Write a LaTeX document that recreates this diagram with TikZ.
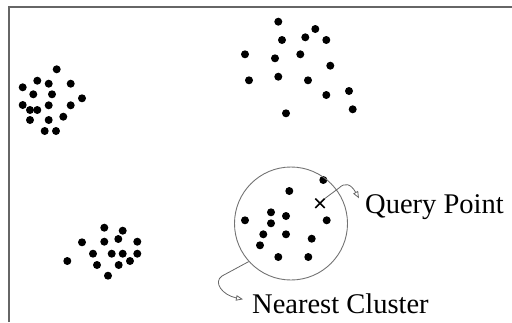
\documentclass[tikz,border=0pt]{standalone}
\usepackage{fontspec}
\setmainfont{Liberation Serif}
\usetikzlibrary{arrows.meta}
\begin{document}
\begin{tikzpicture}[x=1pt,y=-1pt,
  frame/.style={draw=black!60,line width=1.3pt},
  dot/.style={fill=black},
  ring/.style={draw=black!55,line width=0.9pt,circle,minimum size=113pt,inner sep=0pt},
  pointer/.style={draw=black!60,line width=0.8pt,-{Triangle[open,length=7pt,width=5.5pt]}},
  caption/.style={font=\fontsize{28.5}{30}\selectfont,inner sep=0pt,anchor=base west}]
\useasboundingbox (0,0) rectangle (512,322);
% open frame along the top and left
\draw[frame] (9,322) -- (9,7) -- (512,7);
% cluster on the left
\foreach \p in {(56.7,69.3),(37.3,80.7),(48.7,83.7),(70.7,83.7),(22.7,87.3),(33.3,94.3),
  (52,94.3),(82,98.3),(22.7,105),(30,110),(37.3,110),(48.7,105.3),(70.7,105.3),
  (30,120),(48.7,120),(63.3,116.7),(44.7,131),(56,131)}
  \fill[dot] \p circle (4);
% cluster at the top
\foreach \p in {(278.3,21.7),(315.3,29),(282,40),(305.3,37.3),(326.3,40),(245,54.3),
  (275,58.3),(300.3,54.3),(330.3,65.7),(249,80.3),(278.3,76.7),(308,80.3),
  (326.3,95),(349,91),(286,113.3),(352.7,109.3)}
  \fill[dot] \p circle (4);
% cluster at the bottom left
\foreach \p in {(104.3,227.7),(122.7,230.7),(82,242.3),(104.3,241.7),(118.3,239),
  (137.3,241.7),(93,253.7),(111.7,253.7),(122.7,253.7),(137.3,253.7),(67.3,261),
  (97,265),(118.7,265),(130,261),(108,275.7)}
  \fill[dot] \p circle (4);
% nearest cluster with its points
\foreach \p in {(323.3,180),(289.3,191),(245,220.3),(271,212.3),(271,223.3),(286,216),
  (326.7,220.3),(263.3,234.3),(286,234.3),(311.7,238.7),(260,245.3),(278.3,257),(308.3,257)}
  \fill[dot] \p circle (4);
\node[ring] (cluster) at (291,223.5) {};
% query point
\node[inner sep=0pt,minimum size=9pt] (query) at (320,203.3) {};
\draw[line width=1.6pt] (query.north west) -- (query.south east)
                        (query.north east) -- (query.south west);
% labels
\node[caption] (qlabel) at (365,213.3) {Query Point};
\node[caption] (clabel) at (252,313.3) {Nearest Cluster};
% pointers
\draw[pointer] (query.north east) -- (339,188)
  .. controls (345,182) and (351,184) .. ([shift={(-6,-15)}]qlabel.base west);
\draw[pointer] (cluster.222) -- (222,276)
  .. controls (213,282) and (222,295) .. ([shift={(-9,-14)}]clabel.base west);
\end{tikzpicture}
\end{document}
